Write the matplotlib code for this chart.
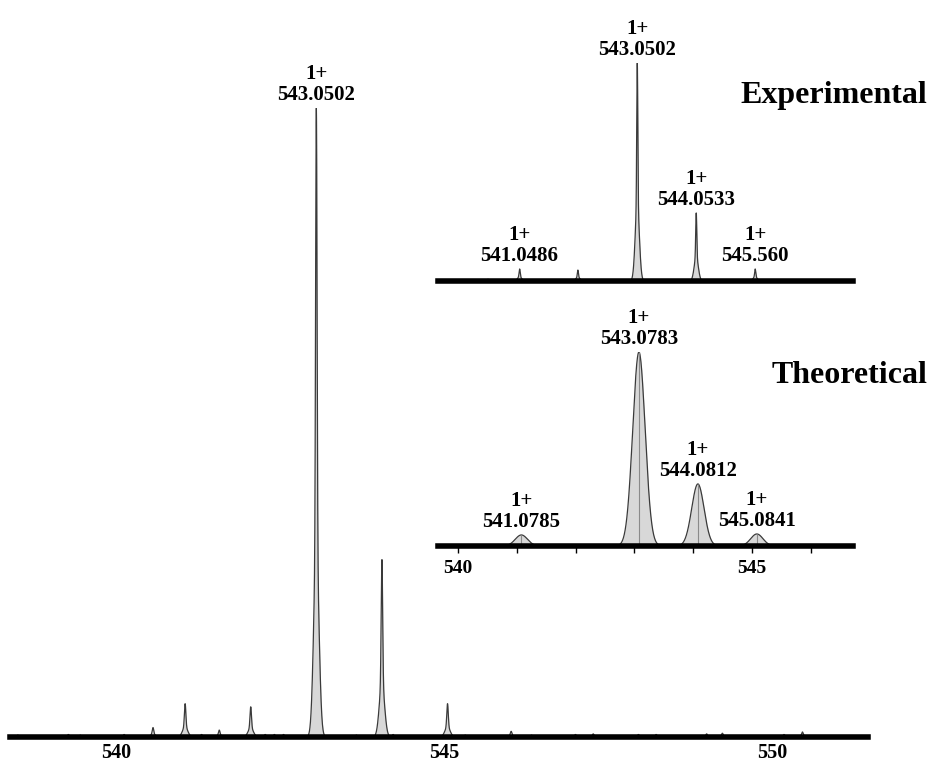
import numpy as np
import matplotlib
matplotlib.use("Agg")
import matplotlib.pyplot as plt

plt.rcParams["font.family"] = ["Liberation Serif", "DejaVu Serif"]
plt.rcParams["font.weight"] = "bold"

# ---- main spectrum: peak centroids (m/z) and relative intensities ----
main_mz = [538.50, 539.27, 539.45, 540.12, 540.56, 541.05, 541.30, 541.57,
           542.05, 542.27, 542.41, 542.55, 543.05, 543.66, 544.05, 544.22,
           545.05, 545.32, 546.02, 546.33, 547.00, 547.27, 547.96, 548.23,
           549.00, 549.24, 550.18, 550.46]
main_int = [0.003, 0.004, 0.003, 0.004, 0.015, 0.053, 0.004, 0.011,
            0.048, 0.004, 0.004, 0.004, 1.000, 0.003, 0.282, 0.004,
            0.053, 0.003, 0.009, 0.003, 0.004, 0.005, 0.004, 0.004,
            0.005, 0.006, 0.004, 0.008]
main_label_mz = 543.0502
main_label = "1+\n543.0502"

# ---- experimental isotope pattern ----
exp_mz = [540.51, 541.0486, 542.04, 543.0502, 544.0533, 545.056]
exp_int = [0.008, 0.055, 0.050, 1.000, 0.312, 0.055]
exp_labels = [None, "1+\n541.0486", None, "1+\n543.0502", "1+\n544.0533", "1+\n545.560"]

# ---- theoretical isotope pattern ----
theo_mz = [541.0785, 543.0783, 544.0812, 545.0841]
theo_int = [0.057, 1.000, 0.320, 0.062]
theo_labels = ["1+\n541.0785", "1+\n543.0783", "1+\n544.0812", "1+\n545.0841"]
theo_ticks = [540, 541, 542, 543, 544, 545, 546]
theo_ticklabels = ["540", "", "", "", "", "545", ""]

main_ticks = [540, 545, 550]

FILL = "#d8d8d8"
EDGE = "#3a3a3a"

W, H = 930, 762
fig = plt.figure(figsize=(W / 100, H / 100), dpi=100)


def px_axes(left, top, right, bottom):
    """Axes from pixel box (origin top-left)."""
    return fig.add_axes([left / W, 1 - bottom / H, (right - left) / W, (bottom - top) / H])


def spike_profile(x, centres, heights, s_narrow, s_broad, broad_frac):
    y = np.zeros_like(x)
    for c, h in zip(centres, heights):
        d = x - c
        y += h * ((1 - broad_frac) * np.exp(-d * d / (2 * s_narrow ** 2))
                  + broad_frac * np.exp(-d * d / (2 * s_broad ** 2)))
    return y


def style_axes(ax, lw=3.8):
    for s in ("top", "right", "left"):
        ax.spines[s].set_visible(False)
    ax.spines["bottom"].set_linewidth(lw)
    ax.spines["bottom"].set_color("black")
    ax.set_yticks([])
    ax.patch.set_alpha(0)
    ax.set_ylim(0, 1.0)


LABEL_FS = 15

# ---------------- main spectrum ----------------
ax = px_axes(10, 108, 868, 737)
xlo, xhi = 538.38, 551.46
x = np.linspace(xlo, xhi, 20000)
y = spike_profile(x, main_mz, main_int, 0.011, 0.04, 0.3)
ax.fill_between(x, 0, y, color=FILL, lw=0)
ax.plot(x, y, color=EDGE, lw=0.9)
ax.set_xlim(xlo, xhi)
style_axes(ax, lw=4)
ax.set_xticks(main_ticks)
ax.set_xticklabels([str(t) for t in main_ticks])
ax.tick_params(axis="x", length=0, pad=4.5, labelsize=14.5)
for lab in ax.get_xticklabels():
    lab.set_fontweight("bold")
ax.annotate(main_label, (main_label_mz, max(main_int)), xytext=(0, 2),
            textcoords="offset points", ha="center", va="bottom",
            fontsize=LABEL_FS, fontweight="bold", linespacing=1.1, annotation_clip=False)

# ---------------- experimental inset ----------------
ixlo, ixhi = 539.66, 546.72
ax_e = px_axes(438, 63, 853, 281)
xe = np.linspace(ixlo, ixhi, 12000)
ye = spike_profile(xe, exp_mz, exp_int, 0.009, 0.035, 0.35)
ax_e.fill_between(xe, 0, ye, color=FILL, lw=0)
ax_e.plot(xe, ye, color=EDGE, lw=0.9)
ax_e.set_xlim(ixlo, ixhi)
style_axes(ax_e, lw=4)
ax_e.set_xticks([])
for m, h, lab in zip(exp_mz, exp_int, exp_labels):
    if lab:
        ax_e.annotate(lab, (m, h), xytext=(0, 2), textcoords="offset points",
                      ha="center", va="bottom", fontsize=LABEL_FS, fontweight="bold",
                      linespacing=1.1, annotation_clip=False)
fig.text(927 / W, 1 - 96 / H, "Experimental", ha="right", va="center",
         fontsize=23, fontweight="bold")

# ---------------- theoretical inset ----------------
ax_t = px_axes(438, 352, 853, 546)
xt = np.linspace(ixlo, ixhi, 12000)
sig = 0.105
for m, h in zip(theo_mz, theo_int):
    yt = h * np.exp(-(xt - m) ** 2 / (2 * sig ** 2))
    mask = yt > 0.004
    ax_t.fill_between(xt[mask], 0, yt[mask], color=FILL, lw=0)
    ax_t.plot(xt[mask], yt[mask], color=EDGE, lw=0.9)
    ax_t.vlines(m, 0, h, color="#8a8a8a", lw=0.8)
ax_t.set_xlim(ixlo, ixhi)
style_axes(ax_t, lw=4)
ax_t.set_xticks(theo_ticks)
ax_t.set_xticklabels(theo_ticklabels)
ax_t.tick_params(axis="x", length=5, width=1, direction="out", pad=5, labelsize=14)
for lab in ax_t.get_xticklabels():
    lab.set_fontweight("bold")
for m, h, lab in zip(theo_mz, theo_int, theo_labels):
    ax_t.annotate(lab, (m, h), xytext=(0, 2), textcoords="offset points",
                  ha="center", va="bottom", fontsize=LABEL_FS, fontweight="bold",
                  linespacing=1.1, annotation_clip=False)
fig.text(927 / W, 1 - 376 / H, "Theoretical", ha="right", va="center",
         fontsize=23, fontweight="bold")

fig.savefig("out.png", dpi=100)
